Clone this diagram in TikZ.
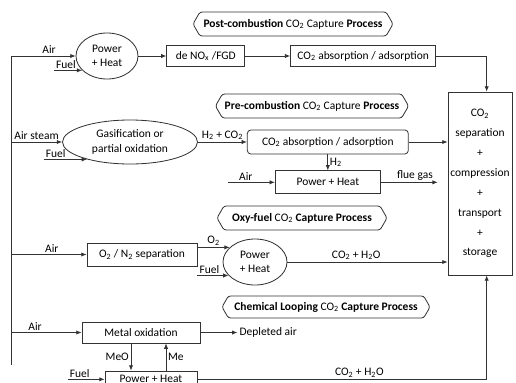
\documentclass[tikz,border=0pt]{standalone}
\usepackage{fontspec}
\setmainfont{Carlito}
\usepackage{tikz}
\usetikzlibrary{positioning, arrows.meta, shapes.geometric, shapes.symbols}

\newcommand{\cotwo}{CO\textsubscript{2}}

\begin{document}
\begin{tikzpicture}[
    font=\fontsize{9.8}{11}\selectfont,
    line width=0.7pt,
    box/.style={draw=black!80, minimum height=0.63cm, inner sep=2pt},
    oval/.style={draw=black!80, ellipse, inner sep=0pt, align=center, font=\fontsize{9.8}{12.5}\selectfont},
    tag/.style={draw=black!80, signal, signal to=west and east, signal pointer angle=120, rounded corners=2pt, minimum height=0.72cm, inner sep=2pt},
    arr/.style={draw=black!80, -{Latex[length=1.6mm, width=1.3mm]}},
    lbl/.style={inner sep=1.5pt}
  ]
    \useasboundingbox (0,0) rectangle (15.48,-11.46);

    % common air supply
    \coordinate (tl) at (0.33,-1.68);
    \coordinate (bl) at (0.33,-10.95);
    \draw[black!80] (tl) -- (bl);

    % storage chain
    \node[box, minimum width=1.92cm, minimum height=5.49cm, align=center, font=\fontsize{9.8}{17}\selectfont] (sep) at (14.4,-5.505) {\cotwo\\separation\\+\\compression\\+\\transport\\+\\storage};

    % post-combustion
    \node[tag, minimum width=6cm] (postlbl) at (8.79,-0.72) {\textbf{Post-combustion} \cotwo{} Capture \textbf{Process}};
    \node[oval, minimum width=1.86cm, minimum height=1.38cm] (pwrA) at (3.21,-1.68) {Power\\+ Heat};
    \node[box, minimum width=2.34cm, right=0.84cm of pwrA] (denox) {de NO\textsubscript{x} /FGD};
    \node[box, minimum width=4.35cm, right=1.35cm of denox] (absA) {\cotwo{} absorption / adsorption};
    \coordinate[left=0.85cm of pwrA.210] (fuelA);

    \draw[arr] (tl) -- (pwrA) node[above, pos=0.59, lbl] {Air};
    \draw[arr] (fuelA) -- (pwrA.210) node[above right, pos=0, lbl] {Fuel};
    \draw[arr] (pwrA) -- (denox);
    \draw[arr] (denox) -- (absA);
    \draw[arr] (absA.east) -| ([xshift=2mm]sep.north);

    % pre-combustion
    \node[tag, minimum width=5.7cm] (prelbl) at (9.36,-3.18) {\textbf{Pre-combustion} \cotwo{} Capture \textbf{Process}};
    \node[oval, minimum width=4.05cm, minimum height=1.32cm] (gasif) at (3.9,-4.26) {Gasification or\\partial oxidation};
    \node[box, rounded corners=3pt, minimum width=4.83cm, minimum height=0.72cm, right=1.47cm of gasif] (absB) {\cotwo{} absorption / adsorption};
    \node[box, minimum width=3.15cm, minimum height=0.69cm, below=0.48cm of absB] (pwrB) {Power + Heat};
    \coordinate[left=1.3cm of gasif.202] (fuelB);
    \coordinate[left=1.41cm of pwrB.west] (airB);
    \coordinate[right=1.71cm of pwrB.east] (flue);

    \draw[arr] (gasif.west -| tl) -- (gasif.west) node[above, midway, lbl] {Air steam};
    \draw[arr] (fuelB) -- (gasif.202) node[above right, pos=0, lbl] {Fuel};
    \draw[arr] (gasif) -- (absB) node[above, midway, lbl] {H\textsubscript{2} + \cotwo};
    \draw[arr] (absB.east) -- (absB.east -| sep.west);
    \draw[arr] (absB.south) -- (absB.south |- pwrB.north) node[right, midway, lbl] {H\textsubscript{2}};
    \draw[arr] (airB) -- (pwrB) node[above, pos=0.38, lbl] {Air};
    \draw[arr] (pwrB) -- (flue) node[above, pos=0.6, lbl] {flue gas};

    % oxy-fuel
    \node[tag, minimum width=5.1cm] (oxylbl) at (9.06,-6.54) {\textbf{Oxy-fuel} \cotwo{} \textbf{Capture Process}};
    \node[box, minimum width=3.3cm, minimum height=0.69cm] (o2n2) at (4.26,-7.635) {O\textsubscript{2} / N\textsubscript{2} separation};
    \node[oval, minimum width=1.92cm, minimum height=1.38cm] (pwrC) at (7.65,-7.86) {Power\\+ Heat};
    \coordinate[left=0.95cm of pwrC.207] (fuelC);

    \draw[arr] (o2n2.west -| tl) -- (o2n2.west) node[above, pos=0.54, lbl] {Air};
    \draw[arr] (pwrC.150 -| o2n2.east) -- (pwrC.150) node[above, midway, lbl] {O\textsubscript{2}};
    \draw[arr] (fuelC) -- (pwrC.207) node[above, pos=0.4, lbl] {Fuel};
    \draw[arr] (pwrC.east) -- (pwrC.east -| sep.west) node[above, pos=0.43, lbl] {\cotwo{} + H\textsubscript{2}O};

    % chemical looping
    \node[tag, minimum width=6.24cm, minimum height=0.66cm] (chemlbl) at (9.78,-9.21) {\textbf{Chemical Looping} \cotwo{} \textbf{Capture Process}};
    \node[box, minimum width=3.54cm] (metal) at (4.23,-9.975) {Metal oxidation};
    \node[box, minimum width=2.76cm, minimum height=0.5cm] (pwrD) at (4.53,-11.38) {Power + Heat};
    \coordinate[right=1.11cm of metal.east] (depl);
    \coordinate[left=1.11cm of pwrD.west] (fuelD);

    \draw[arr] (metal.west -| tl) -- (metal.west) node[above, pos=0.34, lbl] {Air};
    \draw[arr] (metal.east) -- (depl) node[right, lbl] {Depleted air};
    \draw[arr] ([xshift=-3mm]metal.south) -- ([xshift=-3mm]metal.south |- pwrD.north) node[left, midway, lbl] {MeO};
    \draw[arr] ([xshift=7.5mm]metal.south |- pwrD.north) -- ([xshift=7.5mm]metal.south) node[right, midway, lbl] {Me};
    \draw[arr] (fuelD) -- (pwrD) node[above right, pos=0, lbl] {Fuel};
    \draw[arr] (pwrD.east) -| ([xshift=2mm]sep.south) node[above, pos=0.28, lbl] {\cotwo{} + H\textsubscript{2}O};
  \end{tikzpicture}
\end{document}
